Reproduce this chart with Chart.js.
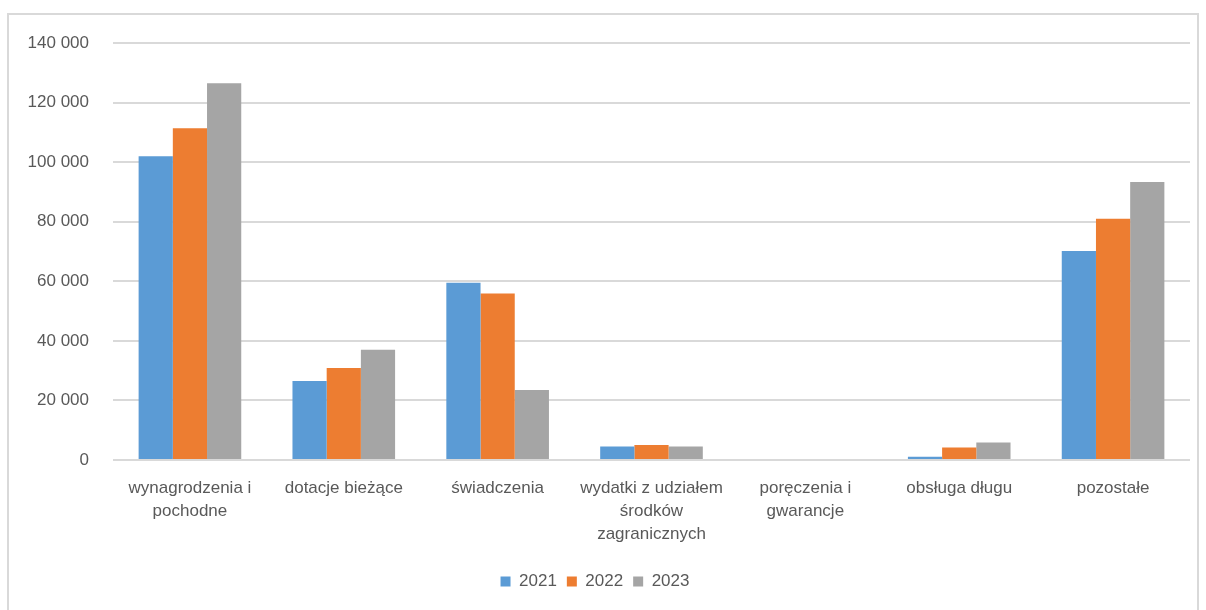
<!DOCTYPE html>
<html>
<head>
<meta charset="utf-8">
<script src="https://cdn.jsdelivr.net/npm/chart.js@4/dist/chart.umd.min.js"></script>
<style>
    html, body { margin: 0; padding: 0; background: #fff; }
    #frame {
        position: absolute;
        left: 7px;
        top: 13px;
        width: 1192px;
        height: 610px;
        border: 2px solid #d9d9d9;
        box-sizing: border-box;
    }
    #wrap { position: absolute; left: 0; top: 0; width: 1206px; height: 610px; }
</style>
</head>
<body>
<div id="frame"></div>
<div id="wrap"><canvas id="chart" width="1206" height="610"></canvas></div>
<script>
const categories = [
    ['wynagrodzenia i', 'pochodne'],
    ['dotacje bieżące'],
    ['świadczenia'],
    ['wydatki z udziałem', 'środków', 'zagranicznych'],
    ['poręczenia i', 'gwarancje'],
    ['obsługa długu'],
    ['pozostałe'],
];
const years = ['2021', '2022', '2023'];
const values2021 = [102000, 26500, 59500, 4500, 0, 1100, 70200];
const values2022 = [111400, 30900, 55900, 5000, 0, 4200, 81000];
const values2023 = [126500, 37000, 23500, 4500, 0, 5900, 93300];
const colors = ['#5b9bd5', '#ed7d31', '#a5a5a5'];

const fontFamily = "'Liberation Sans', Arial, sans-serif";
const textColor = '#595959';

const formatThousands = (v) => String(v).replace(/\B(?=(\d{3})+(?!\d))/g, ' ');

new Chart(document.getElementById('chart'), {
    type: 'bar',
    data: {
        labels: categories,
        datasets: [values2021, values2022, values2023].map((data, i) => ({
            label: years[i],
            data,
            backgroundColor: colors[i],
            borderWidth: 0,
            categoryPercentage: 0.667,
            barPercentage: 1.0,
        })),
    },
    options: {
        responsive: false,
        animation: false,
        layout: {
            padding: { top: 43, right: 16, left: 0, bottom: 10 },
        },
        scales: {
            x: {
                grid: { display: false },
                border: { display: false },
                ticks: {
                    color: textColor,
                    font: { family: fontFamily, size: 17, lineHeight: 1.35 },
                    maxRotation: 0,
                    autoSkip: false,
                    padding: 9,
                },
                afterFit: (scale) => { scale.height = 103; },
            },
            y: {
                min: 0,
                max: 140000,
                grid: { color: '#d9d9d9', lineWidth: 2, drawTicks: false },
                border: { display: false },
                ticks: {
                    stepSize: 20000,
                    color: textColor,
                    font: { family: fontFamily, size: 17 },
                    padding: 24,
                    callback: (v) => formatThousands(v),
                },
                afterFit: (scale) => { scale.width = 113; },
            },
        },
        plugins: {
            legend: {
                position: 'bottom',
                labels: {
                    color: textColor,
                    font: { family: fontFamily, size: 17 },
                    boxWidth: 10,
                    boxHeight: 10,
                    padding: 10,
                },
            },
            tooltip: { enabled: false },
        },
    },
});
</script>
</body>
</html>
